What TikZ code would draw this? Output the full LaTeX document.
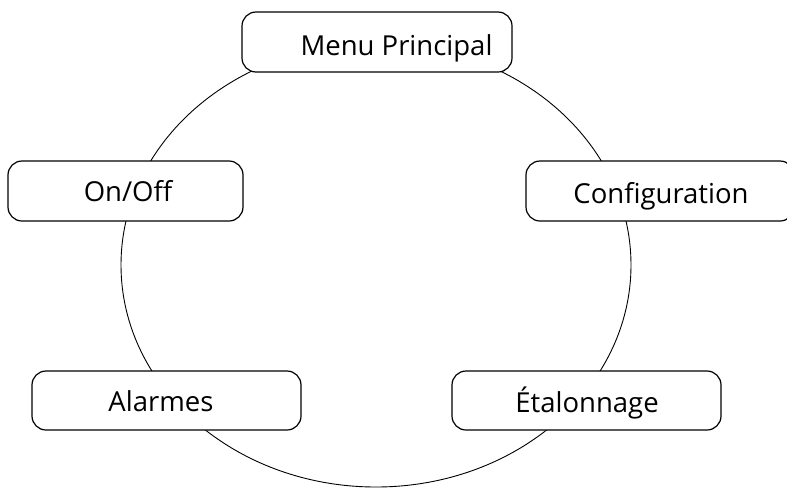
\documentclass[tikz,border=0pt]{standalone}
\usepackage{fontspec}
\setmainfont{Open Sans}
\begin{document}
\begin{tikzpicture}[x=1pt,y=-1pt,
  boxstyle/.style={draw=black, line width=1.2pt, fill=white, rounded corners=14pt, inner sep=0pt},
  lbl/.style={anchor=base, inner sep=0pt, font=\fontsize{27.5}{31}\selectfont}]
\useasboundingbox (0,0) rectangle (787,488);
\clip (0,0) rectangle (787,488);
\fill[white] (0,0) rectangle (787,488);
\coordinate (c) at (376,265);
\draw[line width=0.9pt] (c) ellipse [x radius=255, y radius=222];
% boxes
\node[boxstyle, minimum width=270pt, minimum height=60pt] (bmenu) at (377,42) {};
\node[boxstyle, minimum width=235pt, minimum height=60pt] (bonoff) at (125.5,191) {};
\node[boxstyle, minimum width=268pt, minimum height=60pt] (bconf) at (660,191) {};
\node[boxstyle, minimum width=269pt, minimum height=59pt] (balarm) at (166.5,400.5) {};
\node[boxstyle, minimum width=269pt, minimum height=59pt] (betal) at (586.5,400.5) {};
% labels
\node[lbl] (tmenu) at (396.5,55) {Menu Principal};
\node[lbl] (tonoff) at (128,201) {On/Off};
\node[lbl] (tconf) at (661,203) {Configuration};
\node[lbl] (talarm) at (161,411) {Alarmes};
\node[lbl] (tetal) at (587,412) {Étalonnage};
\end{tikzpicture}
\end{document}
